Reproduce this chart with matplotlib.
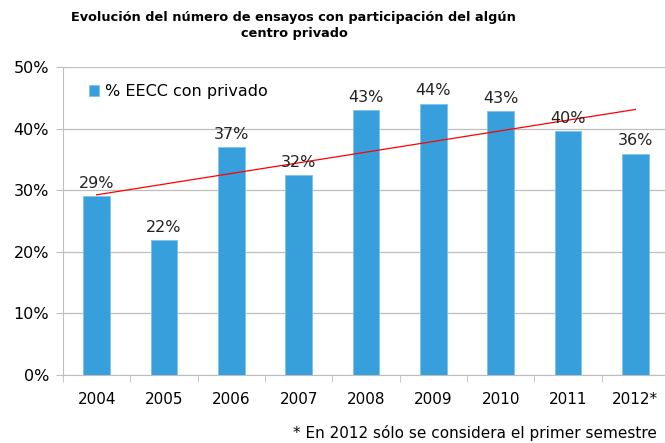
import numpy as np
import matplotlib
matplotlib.use("Agg")
import matplotlib.pyplot as plt
from matplotlib.ticker import PercentFormatter

years = ["2004", "2005", "2006", "2007", "2008", "2009", "2010", "2011", "2012*"]
pct = [29.0, 21.9, 37.0, 32.4, 43.0, 44.0, 42.8, 39.6, 35.9]
labels = ["29%", "22%", "37%", "32%", "43%", "44%", "43%", "40%", "36%"]

bar_color = "#37A0DC"
grid_color = "#BEBEBE"

fig = plt.figure(figsize=(6.65, 4.43), dpi=100)
ax = fig.add_axes([63/665, 68/443, 606/665, 308/443])

x = np.arange(len(years))
ax.bar(x, pct, width=0.4, color=bar_color, edgecolor="#7FC2EA", linewidth=0.6,
       label="% EECC con privado", zorder=2)

# linear trend like the spreadsheet one
k, b = np.polyfit(x, pct, 1)
ax.plot(x, k*x + b, color="#FF0000", lw=0.9, zorder=3)

for xi, v, t in zip(x, pct, labels):
    ax.text(xi, v + 0.9, t, ha="center", va="bottom", fontsize=11.5, color="#222222", zorder=4)

ax.set_ylim(0, 50)
ax.set_xlim(-0.5, 8.5)
ax.set_yticks(np.arange(0, 51, 10))
ax.yaxis.set_major_formatter(PercentFormatter(decimals=0))
ax.set_xticks(x)
ax.set_xticklabels(years)
ax.set_xticks(np.arange(-0.5, 9, 1), minor=True)
ax.tick_params(axis="x", which="major", length=0, pad=12, labelsize=11)
ax.tick_params(axis="x", which="minor", length=5, color=grid_color)
ax.tick_params(axis="y", length=5, color=grid_color, labelsize=11.5, pad=5)
ax.grid(axis="y", color=grid_color, lw=0.9, zorder=0)
for s in ["top", "right"]:
    ax.spines[s].set_visible(False)
for s in ["left", "bottom"]:
    ax.spines[s].set_color(grid_color)

ax.legend(loc="upper left", bbox_to_anchor=(0.02, 0.99), frameon=False, fontsize=11.5,
          handlelength=0.6, handleheight=0.7, handletextpad=0.4)

fig.text(0.442, 0.975, "Evolución del número de ensayos con participación del algún\ncentro privado",
         ha="center", va="top", fontsize=9.3, fontweight="bold", linespacing=1.25)
fig.text(0.988, 0.004, "* En 2012 sólo se considera el primer semestre", ha="right", va="bottom",
         fontsize=11)

fig.savefig("out.png", dpi=100)
